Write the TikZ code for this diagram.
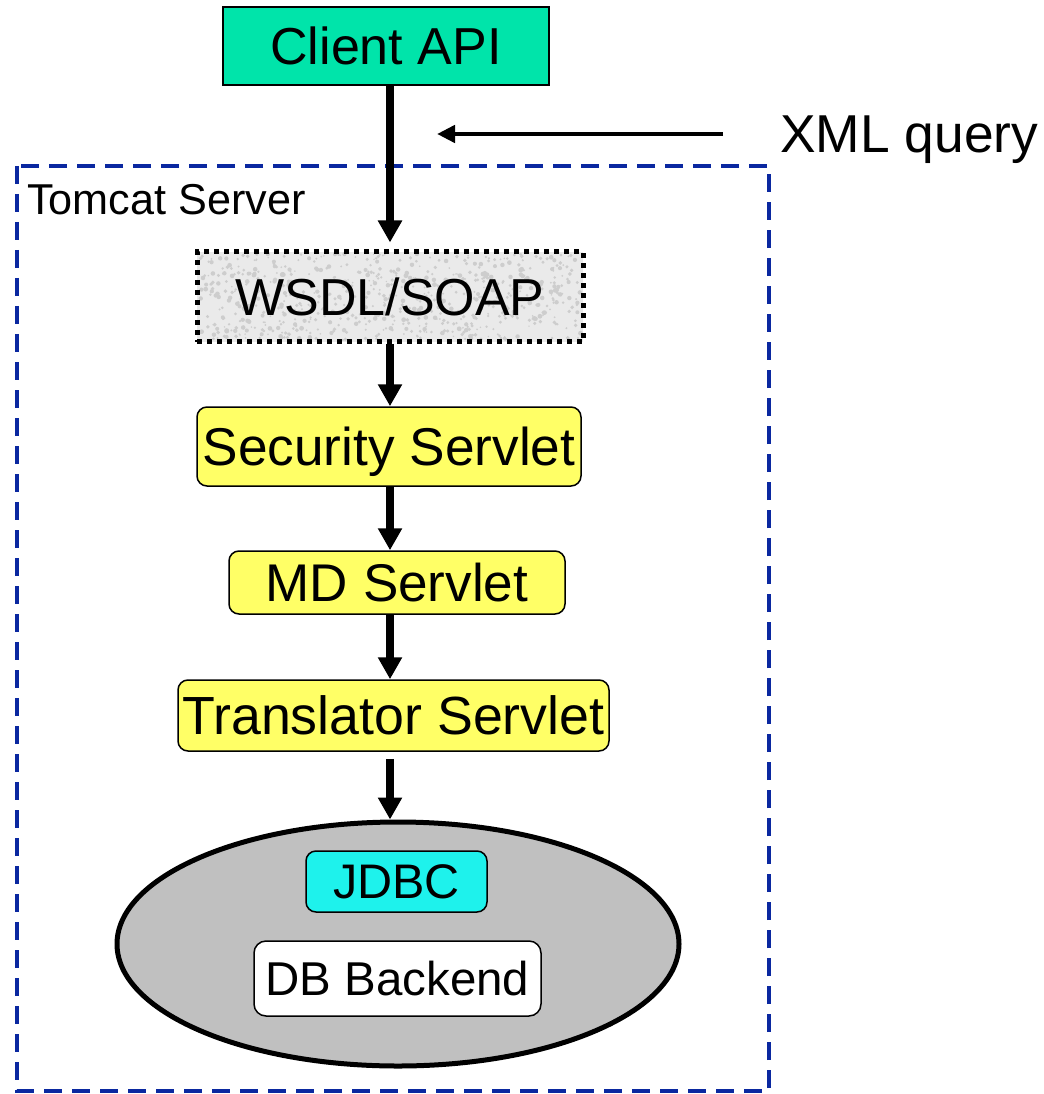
\documentclass[tikz,border=0pt]{standalone}
\usepackage{fontspec}
\setmainfont{Liberation Sans}
\usetikzlibrary{arrows.meta,shapes.geometric}
\newlength\pxl
\setlength\pxl{0.75pt}
\definecolor{apigreen}{RGB}{0,228,170}
\definecolor{servyellow}{RGB}{255,255,102}
\definecolor{jdbccyan}{RGB}{30,242,236}
\definecolor{tomblue}{RGB}{10,40,160}
\definecolor{soapgray}{RGB}{234,234,234}
\definecolor{soapspeck}{RGB}{205,205,205}
\definecolor{dbgray}{RGB}{192,192,192}
\tikzset{
  % text set at a given size, vertically centred on its capitals
  label at/.style={font=\fontsize{#1}{#1}\selectfont, text height=0.716*#1 pt,
                   text depth=0pt, inner sep=0pt},
  plainbox/.style={label at=#1, draw=black, line width=1.5\pxl},
  servlet/.style={plainbox=#1, rounded corners=10\pxl, fill=servyellow},
  flow/.style={line width=6pt, -{Triangle[length=16.5pt, width=17.25pt]}},
  thinflow/.style={line width=3.4pt, -{Triangle[length=13.5pt, width=12.75pt]}},
}
\begin{document}
\begin{tikzpicture}[x=0.75pt, y=-0.75pt]
  \useasboundingbox (0,0) rectangle (1043,1094);

  % Tomcat container
  \draw[tomblue, line width=3.5\pxl, dash pattern=on 18\pxl off 10\pxl]
    (17,166) rectangle (769,1091);
  \node[label at=32.4, anchor=west] (tomcat) at (27,199) {Tomcat Server};

  % Components
  \node[plainbox=39, fill=apigreen, minimum width=326\pxl, minimum height=78\pxl]
    (client) at (386,46) {Client API};

  % WSDL/SOAP box with a speckled fill
  \fill[soapgray] (197,252) rectangle (583,342);
  \pgfmathsetseed{4711}
  \foreach \k in {1,...,700}{
    \pgfmathsetmacro{\sx}{199+382*rnd}
    \pgfmathsetmacro{\sy}{254+86*rnd}
    \pgfmathsetmacro{\sr}{0.8+1.6*rnd}
    \fill[soapspeck] (\sx,\sy) circle[radius=\sr];
  }
  \node[label at=39, draw=black, line width=5\pxl,
        dash pattern=on 5\pxl off 5\pxl, minimum width=386\pxl, minimum height=90\pxl]
    (wsdl) at (390,297) {WSDL/SOAP};

  \node[servlet=39.9, minimum width=384\pxl, minimum height=79\pxl]
    (sec) at (389,446.5) {Security Servlet};
  \node[servlet=39.8, minimum width=336\pxl, minimum height=63\pxl]
    (md) at (397,582.5) {MD Servlet};
  \node[servlet=40.3, minimum width=431\pxl, minimum height=71\pxl]
    (trans) at (393.5,715.5) {Translator Servlet};

  % Database
  \node[ellipse, draw=black, fill=dbgray, line width=5\pxl, inner sep=0pt,
        minimum width=562\pxl, minimum height=244\pxl] (db) at (398,944) {};
  \node[plainbox=36.4, rounded corners=10\pxl, fill=jdbccyan,
        minimum width=181\pxl, minimum height=61\pxl] (jdbc) at (396.5,881.5) {JDBC};
  \node[plainbox=35.6, rounded corners=12\pxl, fill=white,
        minimum width=287\pxl, minimum height=75\pxl] (backend) at (397.5,978.5) {DB Backend};

  % Request flow
  \draw[flow] (client.south -| wsdl.north) -- ([yshift=5.25pt]wsdl.north);
  \draw[flow] (wsdl.south) -- (sec.north -| wsdl.south);
  \draw[flow] (sec.south -| wsdl.south) -- (md.north -| wsdl.south);
  \draw[flow] (md.south -| wsdl.south) -- (trans.north -| wsdl.south);
  \draw[flow] ([yshift=-5.25pt]trans.south -| wsdl.south) -- (db.north -| wsdl.south);

  % XML query annotation
  \coordinate (qstart) at (723,134);
  \coordinate (qend) at (437,134);
  \draw[thinflow] (qstart) -- (qend);
  \node[label at=40, anchor=west] (xml) at (780,133) {XML query};
\end{tikzpicture}
\end{document}
